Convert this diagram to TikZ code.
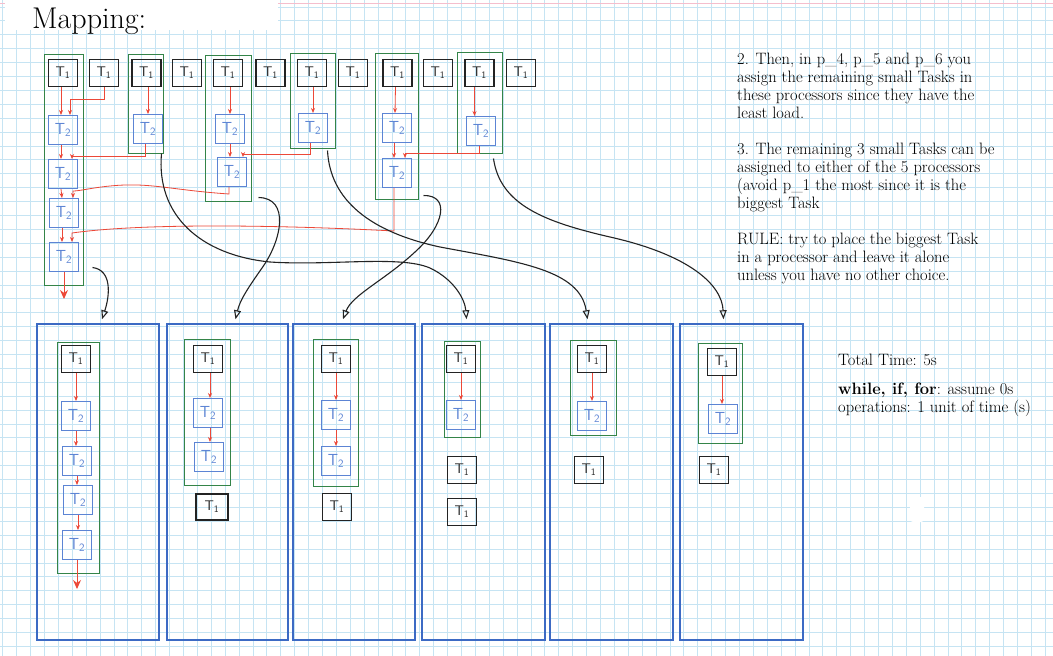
\documentclass[tikz,border=0pt]{standalone}
\usetikzlibrary{arrows.meta,calc,fit}
\definecolor{gridc}{RGB}{198,228,243}
\definecolor{pinkline}{RGB}{245,190,205}
\definecolor{procblue}{RGB}{60,106,196}
\definecolor{tblue}{RGB}{92,132,212}
\definecolor{grpgreen}{RGB}{52,132,72}
\definecolor{arrred}{RGB}{236,72,56}
\definecolor{inkblack}{RGB}{35,35,35}
\newcommand{\TaskOne}{T\textsubscript{1}}
\newcommand{\TaskTwo}{T\textsubscript{2}}
\tikzset{
  tone/.style={draw=inkblack, line width=1.2pt, minimum width=29pt, minimum height=27pt, inner sep=0pt, font=\fontsize{14}{14}\sffamily, text=inkblack},
  ttwo/.style={draw=tblue, line width=1pt, minimum width=29pt, minimum height=29pt, inner sep=0pt, font=\fontsize{16}{16}\sffamily, text=tblue},
  grp/.style={draw=grpgreen, line width=1pt, inner sep=0pt},
  proc/.style={draw=procblue, line width=1.5pt, inner sep=0pt},
  dep/.style={draw=arrred, line width=0.8pt, -{Stealth[length=5pt,width=4pt]}},
  bigdep/.style={draw=arrred, line width=0.9pt, -{Stealth[length=9pt,width=8pt]}},
  assign/.style={draw=inkblack, line width=1.1pt, -{Triangle[open,length=9pt,width=7pt]}},
  note/.style={anchor=base west, inner sep=0pt, font=\fontsize{16.5}{18}\selectfont, text=black},
  gridline/.style={draw=gridc, line width=0.6pt}
}
\begin{document}
\begin{tikzpicture}[x=1pt,y=-1pt]
\useasboundingbox (0,0) rectangle (1053,656);
\fill[white] (0,0) rectangle (1053,656);
% grid paper
\foreach \i in {0,...,75} \draw[gridline] ({2.6+13.9*\i},0) -- ({2.6+13.9*\i},656);
\foreach \j in {0,...,47} \draw[gridline] (0,{6.8+13.9*\j}) -- (1053,{6.8+13.9*\j});
\draw[pinkline, line width=1pt] (0,3) -- (1053,3);
\fill[white] (5,0) rectangle (278,30);
\fill[white, rounded corners=3pt] (910,497) rectangle (924,522);

\node[anchor=base west, inner sep=0pt, font=\fontsize{30}{30}\selectfont] (title) at (32,28) {Mapping:};

% top row of T1 tasks
\foreach \n/\x in {1/63,2/104,3/146.5,4/187,5/228,6/270.5,7/312,8/353,9/397.5,10/438,11/479.5,12/521}
  \node[tone] (t\n) at (\x,73) {\TaskOne};

% T2 tasks (top)
\node[ttwo] (a1) at (63,130) {\TaskTwo};
\node[ttwo] (a2) at (63,174) {\TaskTwo};
\node[ttwo] (a3) at (64,213) {\TaskTwo};
\node[ttwo] (a4) at (64,257) {\TaskTwo};
\node[ttwo] (b1) at (148,129) {\TaskTwo};
\node[ttwo] (c1) at (230,129) {\TaskTwo};
\node[ttwo] (c2) at (232,172) {\TaskTwo};
\node[ttwo] (d1) at (313,128) {\TaskTwo};
\node[ttwo] (e1) at (397,128) {\TaskTwo};
\node[ttwo] (e2) at (397,173) {\TaskTwo};
\node[ttwo] (f1) at (481,131) {\TaskTwo};

% green groups (top)
\node[grp, fit={(44,54) (83,285)}] (gA) {};
\node[grp, fit={(128,54) (163,153)}] (gB) {};
\node[grp, fit={(205,55) (251,201)}] (gC) {};
\node[grp, fit={(290,53) (335,148)}] (gD) {};
\node[grp, fit={(375,53) (418,199)}] (gE) {};
\node[grp, fit={(457,52) (502,153)}] (gF) {};

\coordinate (aout) at (64,299);

% red dependency arrows (top)
\draw[dep] ([xshift=-2pt]t1.south) -- ([xshift=-2pt]a1.north);
\draw[dep] (t2.south) -- ++(0,12) -| ([xshift=7pt]a1.north);
\draw[dep] ([xshift=-2pt]a1.south) -- ([xshift=-2pt]a2.north);
\draw[dep] ([xshift=-3pt]b1.south) -- ++(0,12) -| ([xshift=9pt]a2.north);
\draw[dep] ([xshift=-2pt]a2.south) -- ([xshift=-2pt]a3.north);
\draw[dep] ([xshift=-3pt]c2.south) -- ++(0,7) .. controls (170,190) and (150,182) .. (110,186) .. controls (90,188) and (80,191) .. (73,191) -- ([xshift=9pt]a3.north);
\draw[dep] ([xshift=-2pt]a3.south) -- ([xshift=-2pt]a4.north);
\draw[dep] ([xshift=-3pt]e2.south) -- ++(0,43) .. controls (300,226) and (150,222) .. (72,233) -- ([xshift=8pt]a4.north);
\draw[bigdep] (a4.south) -- (aout);
\draw[dep] (t3.south -| b1.north) -- (b1.north);
\draw[dep] (t5.south -| c1.north) -- (c1.north);
\draw[dep] (c1.south) -- (c1.south |- c2.north);
\draw[dep] ([xshift=-3pt]d1.south) -- ++(0,11) -| ([xshift=11pt]c2.north);
\draw[dep] (t7.south -| d1.north) -- (d1.north);
\draw[dep] ([xshift=-2pt]t9.south) -- ([xshift=-2pt]e1.north);
\draw[dep] ([xshift=-3pt]e1.south) -- ([xshift=-3pt]e2.north);
\draw[dep] ([xshift=-2pt]f1.south) -- ++(0,7) -| ([xshift=8pt]e2.north);
\draw[dep] ([xshift=-5pt]t11.south) -- ([xshift=-5pt]t11.south |- f1.north);

% processors
\node[proc, fit={(37,324) (159,640)}] (p1) {};
\node[proc, fit={(167,324) (288,640)}] (p2) {};
\node[proc, fit={(293,324) (415,640)}] (p3) {};
\node[proc, fit={(422,324) (545,640)}] (p4) {};
\node[proc, fit={(550,324) (673,640)}] (p5) {};
\node[proc, fit={(680,324) (803,640)}] (p6) {};

% processor 1
\node[tone] (u1) at (76,359) {\TaskOne};
\node[ttwo] (u2) at (76,416) {\TaskTwo};
\node[ttwo] (u3) at (77,461) {\TaskTwo};
\node[ttwo] (u4) at (78,500) {\TaskTwo};
\node[ttwo] (u5) at (77,545) {\TaskTwo};
\node[grp, fit={(57,342) (99,573)}] (g1) {};
\coordinate (uout) at (77,589);
\draw[dep] (u1.south) -- (u1.south |- u2.north);
\draw[dep] (u2.south) -- (u2.south |- u3.north);
\draw[dep] (u3.south) -- (u3.south |- u4.north);
\draw[dep] (u4.south) -- (u4.south |- u5.north);
\draw[bigdep] (u5.south) -- (uout);

% processor 2
\node[tone] (v1) at (208,359) {\TaskOne};
\node[ttwo] (v2) at (208,413) {\TaskTwo};
\node[ttwo] (v3) at (209,457) {\TaskTwo};
\node[tone, minimum width=32pt, minimum height=26pt] (v4) at (212,507) {\TaskOne};
\node[grp, fit={(184,339) (230,485)}] (g2) {};
\draw[dep] ([xshift=2pt]v1.south) -- ([xshift=2pt]v1.south |- v2.north);
\draw[dep] ([xshift=2pt]v2.south) -- ([xshift=2pt]v2.south |- v3.north);

% processor 3
\node[tone] (w1) at (336,359) {\TaskOne};
\node[ttwo] (w2) at (336,415) {\TaskTwo};
\node[ttwo] (w3) at (336,461) {\TaskTwo};
\node[tone] (w4) at (337,507) {\TaskOne};
\node[grp, fit={(313,339) (358,486)}] (g3) {};
\draw[dep] (w1.south) -- (w2.north);
\draw[dep] (w2.south) -- (w3.north);

% processor 4
\node[tone] (x1) at (461,359) {\TaskOne};
\node[ttwo] (x2) at (461,415) {\TaskTwo};
\node[tone] (x3) at (462,470) {\TaskOne};
\node[tone] (x4) at (462,512) {\TaskOne};
\node[grp, fit={(444,341) (480,437)}] (g4) {};
\draw[dep] (x1.south) -- (x2.north);

% processor 5
\node[tone] (y1) at (592,359) {\TaskOne};
\node[ttwo] (y2) at (592,416) {\TaskTwo};
\node[tone] (y3) at (589,470) {\TaskOne};
\node[grp, fit={(570,340) (616,435)}] (g5) {};
\draw[dep] (y1.south) -- (y2.north);

% processor 6
\node[tone] (z1) at (722,362) {\TaskOne};
\node[ttwo] (z2) at (723,419) {\TaskTwo};
\node[tone] (z3) at (714,470) {\TaskOne};
\node[grp, fit={(698,343) (742,443)}] (g6) {};
\draw[dep] (z1.south) -- (z1.south |- z2.north);

% assignment curves
\draw[assign] ($(gA.south east)+(9,-18)$) .. controls (112,270) and (110,295) .. ($(p1.north)+(4,-4)$);
\draw[assign] ($(gC.south east)+(7,-4)$) .. controls (290,198) and (282,240) .. (262,268) .. controls (248,288) and (240,300) .. ($(p2.north)+(8,-4)$);
\draw[assign] ($(gB.south east)+(-2,0)$) .. controls (156,215) and (200,255) .. (270,262) .. controls (330,266) and (400,255) .. (430,268) .. controls (455,280) and (465,300) .. ($(p4.north)+(-17,-4)$);
\draw[assign] ($(gE.south east)+(5,-4)$) .. controls (450,195) and (445,225) .. (415,252) .. controls (385,280) and (352,295) .. ($(p3.north)+(-11,-4)$);
\draw[assign] ($(gD.south east)+(-8,2)$) .. controls (330,200) and (370,232) .. (440,247) .. controls (520,262) and (580,270) .. ($(p5.north)+(-24,-4)$);
\draw[assign] ($(gF.south east)+(-9,5)$) .. controls (500,205) and (545,222) .. (610,237) .. controls (690,255) and (722,285) .. ($(p6.north)+(-18,-4)$);

% notes
\node[note] (n1a) at (737,64) {2. Then, in p\_4, p\_5 and p\_6 you};
\node[note] (n1b) at (737,82) {assign the remaining small Tasks in};
\node[note] (n1c) at (737,100) {these processors since they have the};
\node[note] (n1d) at (737,118) {least load.};
\node[note] (n2a) at (737,154) {3. The remaining 3 small Tasks can be};
\node[note] (n2b) at (737,172) {assigned to either of the 5 processors};
\node[note] (n2c) at (737,190) {(avoid p\_1 the most since it is the};
\node[note] (n2d) at (737,208) {biggest Task};
\node[note] (n3a) at (737,244) {RULE: try to place the biggest Task};
\node[note] (n3b) at (737,262) {in a processor and leave it alone};
\node[note] (n3c) at (737,280) {unless you have no other choice.};
\node[note] (n4) at (838,365) {Total Time: 5s};
\node[note] (n5a) at (838,394) {\textbf{while, if, for}: assume 0s};
\node[note] (n5b) at (838,412) {operations: 1 unit of time (s)};
\end{tikzpicture}
\end{document}
